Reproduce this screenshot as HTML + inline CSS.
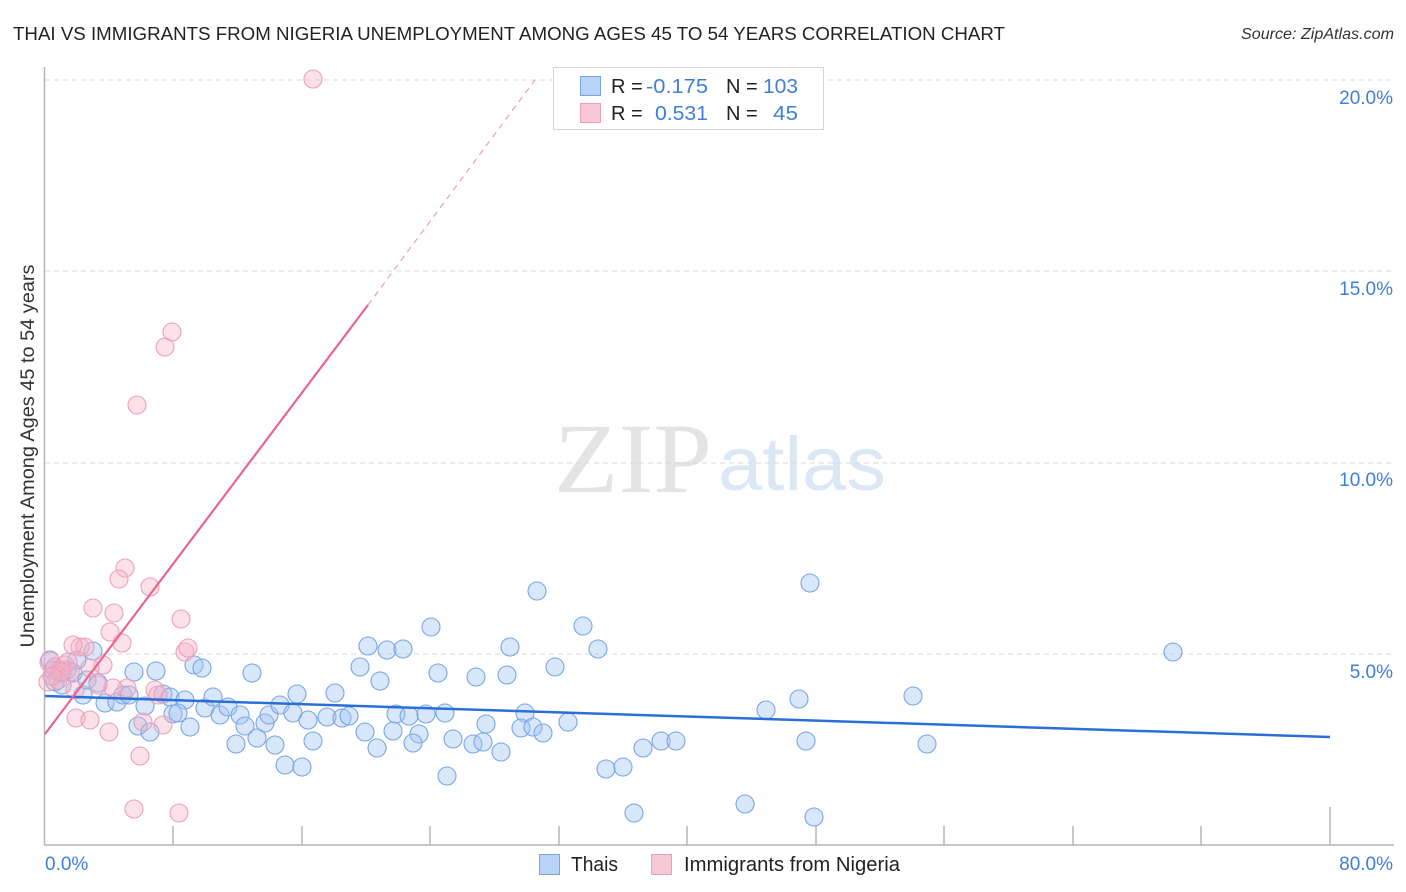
<!DOCTYPE html>
<html><head><meta charset="utf-8"><style>
html,body{margin:0;padding:0;background:#fff;}
svg{display:block;font-family:"Liberation Sans",sans-serif;}
</style></head><body>
<svg width="1406" height="892" viewBox="0 0 1406 892" xmlns="http://www.w3.org/2000/svg">
<rect width="1406" height="892" fill="#fff"/>
<text x="13" y="40" font-size="18" fill="#222" textLength="992" lengthAdjust="spacingAndGlyphs">THAI VS IMMIGRANTS FROM NIGERIA UNEMPLOYMENT AMONG AGES 45 TO 54 YEARS CORRELATION CHART</text>
<text x="1394" y="39" font-size="16" font-style="italic" fill="#333" text-anchor="end" textLength="153" lengthAdjust="spacingAndGlyphs">Source: ZipAtlas.com</text>

<!-- watermark -->
<text x="554" y="492" font-family="Liberation Serif,serif" font-size="100" fill="#e4e4e4" textLength="158" lengthAdjust="spacingAndGlyphs">ZIP</text>
<text x="718" y="490" font-size="76" fill="#dce7f6" textLength="168" lengthAdjust="spacingAndGlyphs">atlas</text>

<!-- gridlines -->
<g stroke="#d8d8d8" stroke-width="1" stroke-dasharray="5,4">
<line x1="45" y1="80" x2="1394" y2="80"/>
<line x1="45" y1="271" x2="1394" y2="271"/>
<line x1="45" y1="463" x2="1394" y2="463"/>
<line x1="45" y1="654" x2="1394" y2="654"/>
</g>
<!-- axes -->
<g stroke="#b5b5b5" stroke-width="1.5">
<line x1="44.5" y1="67" x2="44.5" y2="845"/>
<line x1="44" y1="845" x2="1394" y2="845"/>
<line x1="173" y1="826" x2="173" y2="845"/>
<line x1="302" y1="826" x2="302" y2="845"/>
<line x1="430" y1="826" x2="430" y2="845"/>
<line x1="559" y1="826" x2="559" y2="845"/>
<line x1="687" y1="826" x2="687" y2="845"/>
<line x1="816" y1="826" x2="816" y2="845"/>
<line x1="944" y1="826" x2="944" y2="845"/>
<line x1="1073" y1="826" x2="1073" y2="845"/>
<line x1="1201" y1="826" x2="1201" y2="845"/>
<line x1="1330" y1="807" x2="1330" y2="845"/>
</g>

<!-- y labels -->
<g font-size="19" fill="#3f7fd9" text-anchor="end">
<text x="1393" y="104">20.0%</text>
<text x="1393" y="295">15.0%</text>
<text x="1393" y="486">10.0%</text>
<text x="1393" y="678">5.0%</text>
<text x="1393" y="870">80.0%</text>
</g>
<text x="45" y="870" font-size="19" fill="#3f7fd9">0.0%</text>
<text transform="translate(34,456) rotate(-90)" font-size="19" fill="#333" text-anchor="middle" textLength="383" lengthAdjust="spacingAndGlyphs">Unemployment Among Ages 45 to 54 years</text>

<!-- blue points -->
<g fill="rgba(165,198,242,0.42)" stroke="#78a5e6" stroke-width="1.1">
<circle cx="1173" cy="652" r="9"/><circle cx="537" cy="591" r="9"/><circle cx="810" cy="583" r="9"/>
<circle cx="431" cy="627" r="9"/><circle cx="583" cy="626" r="9"/><circle cx="368" cy="646" r="9"/>
<circle cx="387" cy="650" r="9"/><circle cx="403" cy="649" r="9"/><circle cx="510" cy="647" r="9"/>
<circle cx="598" cy="649" r="9"/><circle cx="360" cy="667" r="9"/><circle cx="380" cy="681" r="9"/>
<circle cx="438" cy="673" r="9"/><circle cx="476" cy="677" r="9"/><circle cx="507" cy="675" r="9"/>
<circle cx="555" cy="667" r="9"/><circle cx="335" cy="693" r="9"/><circle cx="327" cy="717" r="9"/>
<circle cx="342" cy="718" r="9"/><circle cx="349" cy="716" r="9"/><circle cx="396" cy="714" r="9"/>
<circle cx="409" cy="716" r="9"/><circle cx="426" cy="714" r="9"/><circle cx="445" cy="713" r="9"/>
<circle cx="525" cy="713" r="9"/><circle cx="568" cy="722" r="9"/><circle cx="365" cy="732" r="9"/>
<circle cx="393" cy="731" r="9"/><circle cx="419" cy="734" r="9"/><circle cx="413" cy="743" r="9"/>
<circle cx="377" cy="748" r="9"/><circle cx="453" cy="739" r="9"/><circle cx="473" cy="744" r="9"/>
<circle cx="483" cy="742" r="9"/><circle cx="486" cy="724" r="9"/><circle cx="521" cy="728" r="9"/>
<circle cx="533" cy="727" r="9"/><circle cx="543" cy="733" r="9"/><circle cx="501" cy="752" r="9"/>
<circle cx="447" cy="776" r="9"/><circle cx="606" cy="769" r="9"/><circle cx="623" cy="767" r="9"/>
<circle cx="913" cy="696" r="9"/><circle cx="799" cy="699" r="9"/><circle cx="766" cy="710" r="9"/>
<circle cx="661" cy="741" r="9"/><circle cx="676" cy="741" r="9"/><circle cx="643" cy="748" r="9"/>
<circle cx="806" cy="741" r="9"/><circle cx="927" cy="744" r="9"/><circle cx="745" cy="804" r="9"/>
<circle cx="634" cy="813" r="9"/><circle cx="814" cy="817" r="9"/>
<circle cx="93" cy="651" r="9"/><circle cx="134" cy="672" r="9"/><circle cx="156" cy="671" r="9"/>
<circle cx="194" cy="665" r="9"/><circle cx="202" cy="668" r="9"/><circle cx="252" cy="673" r="9"/>
<circle cx="83" cy="695" r="9"/><circle cx="105" cy="703" r="9"/><circle cx="117" cy="702" r="9"/>
<circle cx="123" cy="695" r="9"/><circle cx="129" cy="695" r="9"/><circle cx="145" cy="706" r="9"/>
<circle cx="163" cy="694" r="9"/><circle cx="170" cy="697" r="9"/><circle cx="185" cy="700" r="9"/>
<circle cx="205" cy="708" r="9"/><circle cx="213" cy="697" r="9"/><circle cx="220" cy="715" r="9"/>
<circle cx="228" cy="707" r="9"/><circle cx="240" cy="715" r="9"/><circle cx="245" cy="726" r="9"/>
<circle cx="257" cy="738" r="9"/><circle cx="265" cy="723" r="9"/><circle cx="269" cy="715" r="9"/>
<circle cx="280" cy="705" r="9"/><circle cx="293" cy="713" r="9"/><circle cx="297" cy="694" r="9"/>
<circle cx="308" cy="720" r="9"/><circle cx="313" cy="741" r="9"/><circle cx="138" cy="726" r="9"/>
<circle cx="150" cy="732" r="9"/><circle cx="173" cy="714" r="9"/><circle cx="178" cy="713" r="9"/>
<circle cx="190" cy="727" r="9"/><circle cx="236" cy="744" r="9"/><circle cx="275" cy="745" r="9"/>
<circle cx="285" cy="765" r="9"/><circle cx="302" cy="767" r="9"/>
<circle cx="50" cy="660" r="9"/><circle cx="53" cy="670" r="9"/><circle cx="60" cy="673" r="9"/>
<circle cx="67" cy="670" r="9"/><circle cx="73" cy="673" r="9"/><circle cx="77" cy="660" r="9"/>
<circle cx="87" cy="680" r="9"/><circle cx="98" cy="683" r="9"/><circle cx="55" cy="682" r="9"/>
<circle cx="62" cy="685" r="9"/>
</g>

<!-- pink points -->
<g fill="rgba(246,175,196,0.38)" stroke="#eba0b9" stroke-width="1.1">
<circle cx="313" cy="79" r="9"/><circle cx="172" cy="332" r="9"/><circle cx="165" cy="347" r="9"/>
<circle cx="137" cy="405" r="9"/><circle cx="125" cy="568" r="9"/><circle cx="119" cy="579" r="9"/>
<circle cx="150" cy="587" r="9"/><circle cx="93" cy="608" r="9"/><circle cx="114" cy="613" r="9"/>
<circle cx="181" cy="619" r="9"/><circle cx="110" cy="632" r="9"/><circle cx="122" cy="643" r="9"/>
<circle cx="80" cy="647" r="9"/><circle cx="85" cy="647" r="9"/><circle cx="103" cy="665" r="9"/>
<circle cx="185" cy="652" r="9"/><circle cx="188" cy="648" r="9"/><circle cx="127" cy="688" r="9"/>
<circle cx="155" cy="690" r="9"/><circle cx="98" cy="685" r="9"/><circle cx="76" cy="718" r="9"/>
<circle cx="90" cy="720" r="9"/><circle cx="109" cy="732" r="9"/><circle cx="140" cy="756" r="9"/>
<circle cx="163" cy="725" r="9"/><circle cx="143" cy="722" r="9"/><circle cx="134" cy="809" r="9"/>
<circle cx="179" cy="813" r="9"/>
<circle cx="50" cy="662" r="10"/><circle cx="55" cy="667" r="9"/><circle cx="60" cy="670" r="9"/>
<circle cx="65" cy="665" r="9"/><circle cx="70" cy="672" r="9"/><circle cx="48" cy="682" r="9"/>
<circle cx="58" cy="680" r="9"/><circle cx="75" cy="690" r="9"/><circle cx="68" cy="662" r="9"/>
<circle cx="62" cy="672" r="9"/><circle cx="90" cy="668" r="9"/><circle cx="73" cy="645" r="9"/>
<circle cx="113" cy="688" r="9"/><circle cx="158" cy="695" r="9"/><circle cx="52" cy="676" r="9"/>
</g>

<!-- trend lines -->
<line x1="45" y1="696" x2="1330" y2="737" stroke="#2a6fd6" stroke-width="2.5"/>
<line x1="45" y1="734" x2="368" y2="305" stroke="#e8658f" stroke-width="2.2"/>
<line x1="368" y1="305" x2="535" y2="80" stroke="#e8a0b8" stroke-width="1.2" stroke-dasharray="6,5"/>

<!-- top legend -->
<rect x="553.5" y="67.5" width="270" height="62" fill="#fff" stroke="#d5d5d5"/>
<rect x="580.5" y="76.5" width="20" height="19" fill="#b9d3f6" stroke="#7aa4e4"/>
<rect x="580.5" y="103.5" width="20" height="19" fill="#f9c8d6" stroke="#eba0b9"/>
<g font-size="20">
<text x="611" y="93" fill="#222">R = </text>
<text x="646" y="93" fill="#3f7fd9" textLength="62" lengthAdjust="spacingAndGlyphs">-0.175</text>
<text x="726" y="93" fill="#222">N = </text>
<text x="763" y="93" fill="#3f7fd9" textLength="35" lengthAdjust="spacingAndGlyphs">103</text>
<text x="611" y="120" fill="#222">R = </text>
<text x="655" y="120" fill="#3f7fd9" textLength="53" lengthAdjust="spacingAndGlyphs">0.531</text>
<text x="726" y="120" fill="#222">N = </text>
<text x="773" y="120" fill="#3f7fd9" textLength="25" lengthAdjust="spacingAndGlyphs">45</text>
</g>

<!-- bottom legend -->
<rect x="539.5" y="854.5" width="20" height="20" fill="#b9d3f6" stroke="#7aa4e4"/>
<text x="571" y="871" font-size="20" fill="#222" textLength="47" lengthAdjust="spacingAndGlyphs">Thais</text>
<rect x="651.5" y="854.5" width="20" height="20" fill="#f9c8d6" stroke="#eba0b9"/>
<text x="684" y="871" font-size="20" fill="#222" textLength="216" lengthAdjust="spacingAndGlyphs">Immigrants from Nigeria</text>
</svg>
</body></html>
